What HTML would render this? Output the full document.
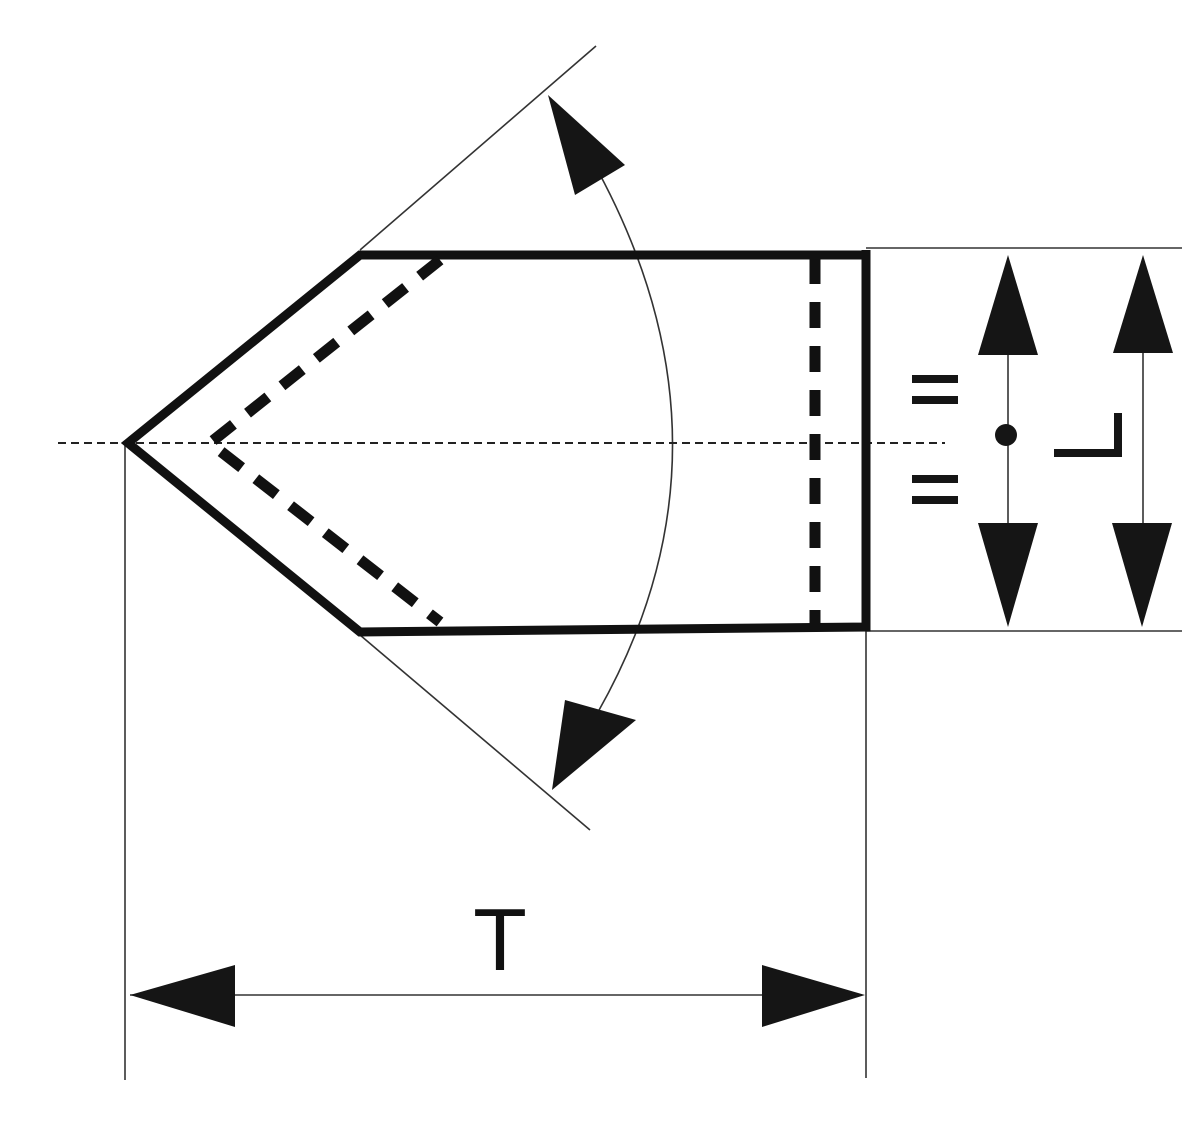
<!DOCTYPE html>
<html><head><style>html,body{margin:0;padding:0;background:#fff}</style></head><body>
<svg width="1198" height="1140" viewBox="0 0 1198 1140" xmlns="http://www.w3.org/2000/svg">
<rect width="1198" height="1140" fill="#fff"/>
<g stroke="#333" stroke-width="1.6" fill="none">
<line x1="360" y1="250" x2="596" y2="46"/>
<line x1="360" y1="635" x2="590" y2="830"/>
<path d="M592 160 Q750 443 598 712"/>
<line x1="866" y1="248" x2="1182" y2="248"/>
<line x1="866" y1="631" x2="1182" y2="631"/>
<line x1="125" y1="443" x2="125" y2="1080"/>
<line x1="866" y1="630" x2="866" y2="1078"/>
<line x1="130" y1="995" x2="862" y2="995"/>
<line x1="1008" y1="260" x2="1008" y2="620"/>
<line x1="1143" y1="260" x2="1143" y2="620"/>
</g>
<line x1="58" y1="443" x2="945" y2="443" stroke="#222" stroke-width="2" stroke-dasharray="8,5"/>
<g fill="#151515">
<polygon points="548,95 575,195 625,165"/>
<polygon points="552,790 565,700 636,720"/>
<polygon points="130,995 235,965 235,1027"/>
<polygon points="865,995 762,965 762,1027"/>
<polygon points="1008,255 978,355 1038,355"/>
<polygon points="1008,627 978,523 1038,523"/>
<polygon points="1143,255 1113,353 1173,353"/>
<polygon points="1142,627 1112,523 1172,523"/>
<circle cx="1006" cy="435" r="11"/>
<rect x="912" y="375" width="46" height="8"/>
<rect x="912" y="396" width="46" height="8"/>
<rect x="912" y="475" width="46" height="8"/>
<rect x="912" y="496" width="46" height="8"/>
<rect x="1114" y="413" width="8" height="44"/>
<rect x="1054" y="449" width="68" height="8"/>
</g>
<polyline points="866,255 360,255 128,443 360,632 866,627 866,250" fill="none" stroke="#111" stroke-width="9" stroke-linejoin="miter"/>
<polyline points="440,260 210,443 440,622" fill="none" stroke="#111" stroke-width="11" stroke-dasharray="26,18"/>
<line x1="815" y1="258" x2="815" y2="625" stroke="#111" stroke-width="11" stroke-dasharray="26,18"/>
<text x="500" y="970" font-family="Liberation Sans, sans-serif" font-size="88" text-anchor="middle" fill="#111">T</text>
</svg>
</body></html>
